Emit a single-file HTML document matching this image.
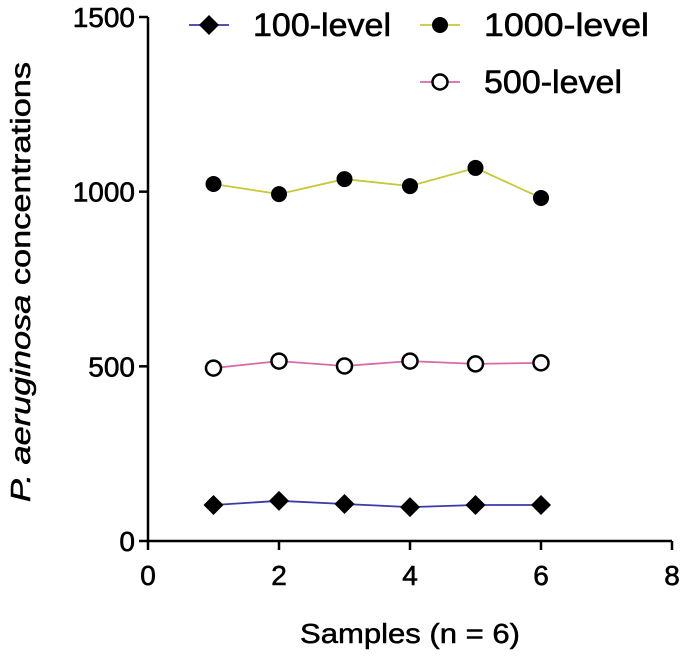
<!DOCTYPE html>
<html><head><meta charset="utf-8"><style>
body{margin:0;background:#fff}
svg{display:block;font-family:"Liberation Sans",sans-serif;font-weight:bold}
</style></head><body>
<svg id="chart" width="685" height="662" viewBox="0 0 685 662" xmlns="http://www.w3.org/2000/svg"></svg>
<script>
const samples = [1, 2, 3, 4, 5, 6];
const level100 = [103, 115, 106, 97, 103, 103];
const level1000 = [1022, 993, 1036, 1016, 1068, 982];
const level500 = [495, 515, 501, 515, 507, 510];
const xTicks = [0, 2, 4, 6, 8];
const yTicks = [0, 500, 1000, 1500];

const svg = document.getElementById('chart');
const NS = 'http://www.w3.org/2000/svg';
const X0 = 148, X1 = 672, Y0 = 541, Y1 = 17;
function xs(v){ return X0 + (v - 0) / 8 * (X1 - X0); }
function ys(v){ return Y0 - v / 1500 * (Y0 - Y1); }
function mk(tag, attrs, parent){
  const e = document.createElementNS(NS, tag);
  for (const k in attrs) e.setAttribute(k, attrs[k]);
  (parent || svg).appendChild(e);
  return e;
}
let a = mk('line', {x1:X0, y1:Y1, x2:X0, y2:Y0+1, stroke:'#000', 'stroke-width':2.5});


a = mk('line', {x1:X0-1, y1:Y0, x2:X1, y2:Y0, stroke:'#000', 'stroke-width':2.5});


yTicks.forEach(v => {
  const t = mk('line', {x1:X0-9, y1:ys(v), x2:X0, y2:ys(v), stroke:'#000', 'stroke-width':2.5});
  
  
  const l = mk('text', {x:X0-13, y:ys(v)+10, 'text-anchor':'end', 'font-size':28, 'font-weight':'normal', stroke:'#000', 'stroke-width':0.6});
  l.textContent = v;
  
  
});
xTicks.forEach(v => {
  const t = mk('line', {x1:xs(v), y1:Y0, x2:xs(v), y2:Y0+9, stroke:'#000', 'stroke-width':2.5});
  
  
  const l = mk('text', {x:xs(v), y:Y0+44, 'text-anchor':'middle', 'font-size':28, 'font-weight':'normal', stroke:'#000', 'stroke-width':0.6});
  l.textContent = v;
  
  
});
let tt = mk('text', {x:410, y:643, 'text-anchor':'middle', 'font-size':28, 'font-weight':'normal', stroke:'#000', 'stroke-width':0.5, textLength:220, lengthAdjust:'spacingAndGlyphs'});
tt.textContent = 'Samples (n = 6)';


tt = mk('text', {x:0, y:0, 'text-anchor':'middle', 'font-size':28, 'font-weight':'normal', stroke:'#000', 'stroke-width':0.5, transform:'translate(30,282) rotate(-90)', textLength:440, lengthAdjust:'spacingAndGlyphs'});
tt.innerHTML = '<tspan font-style="italic">P. aeruginosa</tspan> concentrations';



function marker(type, cx, cy, parent){
  if (type === 'diamond') return mk('polygon', {points:`${cx},${cy-10} ${cx+10},${cy} ${cx},${cy+10} ${cx-10},${cy}`, fill:'#000'}, parent);
  if (type === 'filled') return mk('circle', {cx, cy, r:8, fill:'#000'}, parent);
  return mk('circle', {cx, cy, r:7.5, fill:'#fff', stroke:'#000', 'stroke-width':2.5}, parent);
}
const series = [
  {vals:level100, color:'#3a3aa8', type:'diamond', name:'series-100-level', label:'100-level', lx:189, ly:25, w:138},
  {vals:level1000, color:'#c8c832', type:'filled', name:'series-1000-level', label:'1000-level', lx:420, ly:25, w:165},
  {vals:level500, color:'#d86aa8', type:'open', name:'series-500-level', label:'500-level', lx:420, ly:82, w:138}
];
series.forEach(s => {
  const g = mk('g', {});
  
  
  const pts = samples.map((x,i) => xs(x) + ',' + ys(s.vals[i])).join(' ');
  const pl = mk('polyline', {points:pts, fill:'none', stroke:s.color, 'stroke-width':1.8}, g);
  
  
  samples.forEach((x,i) => {
    const m = marker(s.type, xs(x), ys(s.vals[i]), g);
    
    
  });
  const lg = mk('g', {});
  
  
  mk('line', {x1:s.lx, y1:s.ly, x2:s.lx+40, y2:s.ly, stroke:s.color, 'stroke-width':1.8}, lg);
  marker(s.type, s.lx+20, s.ly, lg);
  const t = mk('text', {x:s.lx+64, y:s.ly+11, 'font-size':32, 'font-weight':'normal', stroke:'#000', 'stroke-width':0.6, textLength:s.w, lengthAdjust:'spacingAndGlyphs'}, lg);
  t.textContent = s.label;
});
</script>
</body></html>
